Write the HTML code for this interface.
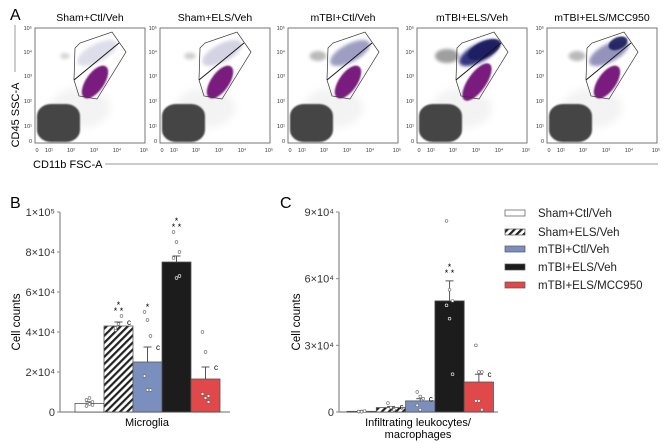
<!DOCTYPE html>
<html><head><meta charset="utf-8"><style>
body{margin:0;background:#fff;}
svg{display:block;font-family:"Liberation Sans",sans-serif;}
</style></head><body>
<svg id="fig" width="669" height="443" viewBox="0 0 669 443" xmlns="http://www.w3.org/2000/svg">
<defs>
<filter id="b1" x="-50%" y="-50%" width="200%" height="200%"><feGaussianBlur stdDeviation="1.6"/></filter>
<filter id="b0" x="-50%" y="-50%" width="200%" height="200%"><feGaussianBlur stdDeviation="0.9"/></filter>
<filter id="b2" x="-50%" y="-50%" width="200%" height="200%"><feGaussianBlur stdDeviation="4"/></filter>
<clipPath id="fc"><rect x="0" y="0" width="110" height="115"/></clipPath>
<pattern id="hatch" patternUnits="userSpaceOnUse" width="5" height="5" patternTransform="rotate(45)">
<rect width="5" height="5" fill="#fff"/><rect width="2.2" height="5" fill="#222"/></pattern>
</defs>
<text x="10" y="20" font-size="16">A</text>
<text x="10" y="208" font-size="16">B</text>
<text x="280" y="208" font-size="16">C</text>
<g id="flow"></g>
<line x1="15" y1="25" x2="15" y2="72" stroke="#999" stroke-width="1"/>
<text transform="translate(19,115) rotate(-90)" text-anchor="middle" font-size="11">CD45 SSC-A</text>
<text x="33" y="168" font-size="11">CD11b FSC-A</text>
<line x1="105" y1="164" x2="658" y2="164" stroke="#999" stroke-width="1"/>
<g id="chartB"></g>
<g id="chartC"></g>
<g id="legend"></g>
</svg>
<script>
const NS="http://www.w3.org/2000/svg";
function mk(tag,attrs,parent,text){const e=document.createElementNS(NS,tag);for(const k in attrs)e.setAttribute(k,attrs[k]);if(text!==undefined)e.textContent=text;parent.appendChild(e);return e;}

// ===== Panel A flow plots =====
const flowTitles=["Sham+Ctl/Veh","Sham+ELS/Veh","mTBI+Ctl/Veh","mTBI+ELS/Veh","mTBI+ELS/MCC950"];
const flowLeft=[35,160,288,417,547];
const blueOpacity=[0.15,0.2,0.45,0.95,0.5];
const blueCore=[0,0,0,0.9,0.9];
const grayCluster=[0.2,0.3,0.6,1,0.6];
const flow=document.getElementById('flow');
const yTicks=["10⁵","10⁴","10³","10²","10¹","0"];
const xTicks=["0","10¹","10²","10³","10⁴","10⁵"];
flowTitles.forEach((t,i)=>{
  const x0=flowLeft[i],y0=28,w=110,h=115;
  const g=mk('g',{transform:`translate(${x0},${y0})`},flow);
  
  
  const tt=mk('text',{x:w/2,y:-7,'text-anchor':'middle','font-size':'10.5'},g,t);
  
  
  mk('rect',{x:0,y:0,width:w,height:h,fill:'#fff',stroke:'#555','stroke-width':0.8},g);
  const c=mk('g',{'clip-path':'url(#fc)'},g);
  mk('ellipse',{cx:45,cy:80,rx:30,ry:20,fill:'#ddd',opacity:0.35,filter:'url(#b2)'},c);
  mk('ellipse',{cx:30,cy:28,rx:9*grayCluster[i]+3,ry:5*grayCluster[i]+2,fill:'#777',opacity:0.2+0.5*grayCluster[i],filter:'url(#b1)'},c);
  const gb=mk('rect',{x:2,y:76,width:43,height:38,rx:14,ry:12,fill:'#454545',filter:'url(#b0)'},c);
  
  
  const bl=mk('ellipse',{cx:62,cy:25,rx:22,ry:9,transform:'rotate(-28 62 25)',fill:'#2a2a7a',opacity:blueOpacity[i],filter:'url(#b1)'},c);
  
  
  if(blueCore[i]){mk('ellipse',{cx:i===3?66:72,cy:i===3?20:16,rx:i===3?18:10,ry:i===3?8:6,transform:'rotate(-25 70 18)',fill:'#1d1d5e',opacity:blueCore[i],filter:'url(#b0)'},c);}
  const pp=mk('ellipse',{cx:60,cy:54,rx:i===3?22:19,ry:9,transform:'rotate(-55 60 54)',fill:'#7a1a7e',filter:'url(#b0)'},c);
  
  
  mk('polygon',{points:'40,20 45,15 77,4 91,24 62,71 44,68 39,52',fill:'none',stroke:'#333','stroke-width':0.7},g);
  mk('line',{x1:39,y1:52,x2:84,y2:15,stroke:'#111','stroke-width':0.9},g);
  yTicks.forEach((l,k)=>{mk('text',{x:-3,y:[2,26,50,75,100,115][k],'text-anchor':'end','font-size':'5.5',fill:'#333'},g,l);});
  xTicks.forEach((l,k)=>{mk('text',{x:[2,14,36,59,82,109][k],y:h+9,'text-anchor':'middle','font-size':'5.5',fill:'#333'},g,l);});
});

// ===== Bar charts =====
const groups=["Sham+Ctl/Veh","Sham+ELS/Veh","mTBI+Ctl/Veh","mTBI+ELS/Veh","mTBI+ELS/MCC950"];
const fills=["#fff","url(#hatch)","#7b8fbf","#1c1c1c","#e0484a"];
const microMeans=[4300,43000,25000,75000,16500];
const microErr=[800,2000,7500,3000,6000];
const microDots=[[3000,4000,5000,6000,7000,3500],[41000,44000,48000,42000],[50000,46000,38000,18000,11000,11000],[90000,85000,80000,77000,67000,68000],[40000,30000,8000,9000,7000,5000]];
const microStars=[0,3,1,3,0];
const microStarAt=[0,50000,52000,92000,0];
const microC=[0,1,1,0,1];
const microTicks=[0,20000,40000,60000,80000,100000];
const microTickLabels=["0","2×10⁴","4×10⁴","6×10⁴","8×10⁴","1×10⁵"];

const infMeans=[300,2000,5000,50000,13500];
const infErr=[100,500,1000,9000,3500];
const infDots=[[200,300,400,200,100],[4000,2000,1000],[9000,7000,6000,3000,1000],[86000,55000,50000,48000,42000,17000],[30000,18000,18000,5000,5000,1000]];
const infStars=[0,0,0,3,0];
const infStarAt=[0,0,0,62000,0];
const infC=[0,1,1,0,1];
const infTicks=[0,30000,60000,90000];
const infTickLabels=["0","3×10⁴","6×10⁴","9×10⁴"];

function drawChart(id,cfg){
  const root=document.getElementById(id);
  const {ax,y0,y1,max,bx,bw,axEnd}=cfg;
  const y=v=>y0-(v/max)*(y0-y1);
  const xa=mk('line',{x1:ax,y1:y1,x2:ax,y2:y0,stroke:'#888','stroke-width':1.2},root);
  
  
  const xb=mk('line',{x1:ax,y1:y0,x2:axEnd,y2:y0,stroke:'#888','stroke-width':1.2},root);
  
  
  cfg.ticks.forEach((t,k)=>{
    mk('line',{x1:ax-3,y1:y(t),x2:ax,y2:y(t),stroke:'#888'},root);
    const tl=mk('text',{x:ax-5,y:y(t)+4,'text-anchor':'end','font-size':'11',fill:'#333'},root,cfg.tickLabels[k]);
    
    
  });
  const yt=mk('text',{transform:`translate(${cfg.titleX},${(y0+y1)/2+10}) rotate(-90)`,'text-anchor':'middle','font-size':'11.5'},root,'Cell counts');
  
  
  cfg.means.forEach((m,i)=>{
    const x=bx+i*bw;
    const top=y(m);
    mk('line',{x1:x+bw/2,y1:y(m+cfg.err[i]),x2:x+bw/2,y2:top,stroke:'#555','stroke-width':1},root);
    mk('line',{x1:x+bw/2-4,y1:y(m+cfg.err[i]),x2:x+bw/2+4,y2:y(m+cfg.err[i]),stroke:'#555','stroke-width':1},root);
    const r=mk('rect',{x:x,y:top,width:bw,height:y0-top,fill:fills[i],stroke:'#555','stroke-width':0.8},root);
    
    
    cfg.dots[i].forEach((d,k)=>{
      const dx=x+bw/2+((k%3)-1)*3;
      const inside=d<m&&i===3;
      const c=mk('circle',{cx:dx,cy:y(d),r:1.4,fill:inside?'#1c1c1c':'#fff',stroke:inside?'#fff':'#666','stroke-width':0.6},root);
      
      
    });
    if(cfg.stars[i]){
      const sy=y(cfg.starAt[i]);
      if(cfg.stars[i]===3){
        mk('text',{x:x+bw/2,y:sy-4,'text-anchor':'middle','font-size':'9'},root,'*');
        mk('text',{x:x+bw/2,y:sy+2,'text-anchor':'middle','font-size':'9'},root,'* *');
      } else {
        mk('text',{x:x+bw/2,y:sy+2,'text-anchor':'middle','font-size':'9'},root,'*');
      }
    }
    if(cfg.c[i]){
      mk('text',{x:x+bw-6,y:y(m+cfg.err[i])+3,'font-size':'8'},root,'c');
    }
  });
  cfg.labels.forEach((l,k)=>{
    const t=mk('text',{x:cfg.labelX,y:y0+14+k*12,'text-anchor':'middle','font-size':'11'},root,l);
    
    
  });
}
drawChart('chartB',{ax:60,y0:412,y1:212,max:100000,bx:75,bw:29,axEnd:230,ticks:microTicks,tickLabels:microTickLabels,means:microMeans,err:microErr,dots:microDots,stars:microStars,starAt:microStarAt,c:microC,titleX:20,labels:["Microglia"],labelX:147});
drawChart('chartC',{ax:339,y0:412,y1:212,max:90000,bx:347,bw:29.3,axEnd:498,ticks:infTicks,tickLabels:infTickLabels,means:infMeans,err:infErr,dots:infDots,stars:infStars,starAt:infStarAt,c:infC,titleX:300,labels:["Infiltrating leukocytes/","macrophages"],labelX:418});

const leg=document.getElementById('legend');
groups.forEach((gname,i)=>{
  const yy=[213,232,249,267,285][i];
  const g=mk('g',{},leg);
  
  
  mk('rect',{x:505,y:yy-3,width:20,height:6,fill:fills[i],stroke:'#555','stroke-width':0.7},g);
  mk('text',{x:538,y:yy+4,'font-size':'11.5',fill:'#222'},g,gname);
});
</script>
</body></html>
